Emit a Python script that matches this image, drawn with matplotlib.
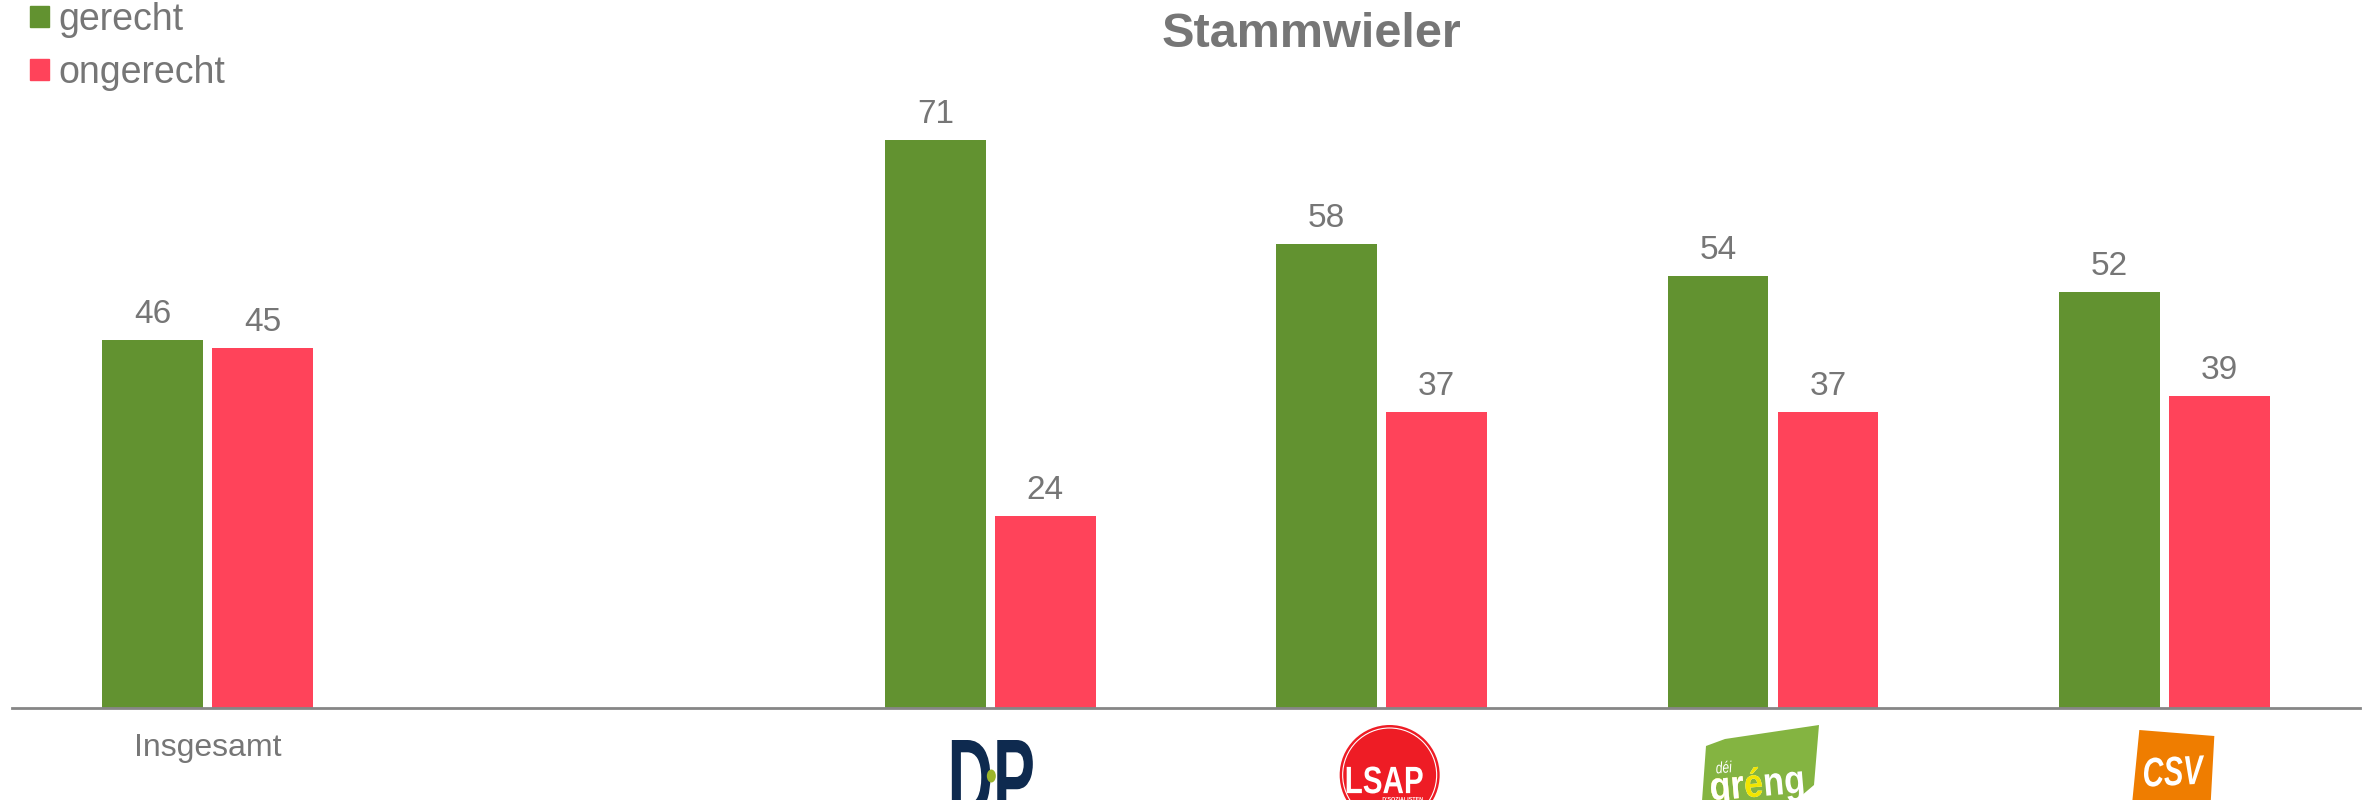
import numpy as np
import matplotlib.pyplot as plt
from matplotlib.patches import Patch, Circle, Polygon, PathPatch, Ellipse
from matplotlib.textpath import TextPath
from matplotlib.font_manager import FontProperties
from matplotlib.transforms import Affine2D

plt.rcParams['font.family'] = ['Liberation Sans', 'DejaVu Sans']

# data
categories = ['Insgesamt', '', 'DP', 'LSAP', 'déi gréng', 'CSV']
gerecht = [46, np.nan, 71, 58, 54, 52]
ongerecht = [45, np.nan, 24, 37, 37, 39]
tick_labels = ['Insgesamt', '', '', '', '', '']
series_names = ['gerecht', 'ongerecht']

GREEN = '#629230'
RED = '#FF435A'
GREY = '#767676'

W, H = 2369, 800
fig = plt.figure(figsize=(W / 100, H / 100), dpi=100)
ax = fig.add_axes([12 / W, 92 / H, (2360 - 12) / W, 640 / H])

x = np.arange(len(categories))
bw = 0.258
off = 0.1405
b1 = ax.bar(x - off, gerecht, bw, color=GREEN)
b2 = ax.bar(x + off, ongerecht, bw, color=RED)
for bars, vals in ((b1, gerecht), (b2, ongerecht)):
    labs = ['' if np.isnan(v) else f'{v:.0f}' for v in vals]
    ax.bar_label(bars, labels=labs, padding=7, fontsize=24, color=GREY)

ax.set_xlim(-0.5, len(categories) - 0.5)
ax.set_ylim(0, 80)
ax.set_xticks(x)
ax.set_xticklabels(tick_labels, fontsize=23, color=GREY)
ax.tick_params(axis='x', length=0, pad=18)
ax.set_yticks([])
for s in ['top', 'right', 'left']:
    ax.spines[s].set_visible(False)
ax.spines['bottom'].set_color('#868686')
ax.spines['bottom'].set_linewidth(2)

fig.text(1311 / W, 1 - 47 / H, 'Stammwieler', fontsize=35, fontweight='bold',
         color=GREY, ha='center', va='baseline')

handles = [Patch(color=GREEN), Patch(color=RED)]
fig.legend(handles, series_names, loc='upper left', bbox_to_anchor=(30 / W, 1 - 2 / H),
           frameon=False, fontsize=27, labelcolor=GREY, handlelength=0.5,
           handleheight=0.5, handletextpad=0.25, labelspacing=0.45, borderpad=0,
           borderaxespad=0)

# party logos, drawn in a pixel overlay under each category
ov = fig.add_axes([0, 0, 1, 1])
ov.set_xlim(0, W)
ov.set_ylim(0, H)
ov.axis('off')


def cx(i):
    return ax.transData.transform((i, 0))[0]


def text_path(s, xc, yc, w, h, color, weight='bold', style='normal', ref=None, rot=0):
    # draw s scaled into a w x h box centred at (xc, yc); ref string sets the box
    prop = FontProperties(family='Liberation Sans', weight=weight, style=style)
    full = TextPath((0, 0), ref if ref else s, size=1, prop=prop)
    ext = full.get_extents()
    tr = (Affine2D().translate(-(ext.x0 + ext.x1) / 2, -(ext.y0 + ext.y1) / 2)
          .scale(w / ext.width, h / ext.height).rotate_deg(rot).translate(xc, yc))
    p = TextPath((0, 0), s, size=1, prop=prop)
    ov.add_patch(PathPatch(tr.transform_path(p), color=color, lw=0))


# DP
c = cx(2) + 2
text_path('DP', c, H - 778, 81, 76, '#0E2A4F')
ov.add_patch(Ellipse((c - 1, H - 776), 9, 13, color='#9CB52A', lw=0))

# LSAP
c = cx(3) + 8
ov.add_patch(Circle((c, H - 775), 50, color='#EE1C25', lw=0))
ov.add_patch(Circle((c, H - 775), 47, fill=False, ec='white', lw=0.8))
text_path('LSAP', c - 5, H - 780, 76, 27, 'white')
text_path("D'SOZIALISTEN", c + 13, H - 799, 40, 4, 'white')

# déi gréng
c = cx(4) - 13
pts = [(-59, 815), (-54, 746), (-35, 739), (59, 725), (54, 785), (34, 802)]
ov.add_patch(Polygon([(c + a, H - b) for a, b in pts], closed=True, color='#84B441', lw=0))
text_path('déi', c - 36, H - 767, 16, 12, 'white', weight='normal', style='italic', rot=5)
text_path('gréng', c - 3, H - 786, 92, 38, 'white', rot=5)
text_path('gré', c - 3, H - 786, 92, 38, '#F2E500', ref='gréng', rot=5)
text_path('gr', c - 3, H - 786, 92, 38, 'white', ref='gréng', rot=5)

# CSV
c = cx(5) + 9
pts = [(-34, 730), (41, 736), (37, 809), (-41, 801)]
ov.add_patch(Polygon([(c + a, H - b) for a, b in pts], closed=True, color='#EF7D00', lw=0))
text_path('CSV', c + 1, H - 771, 61, 29, 'white', style='italic', rot=3)

fig.savefig('out.png', dpi=100)
